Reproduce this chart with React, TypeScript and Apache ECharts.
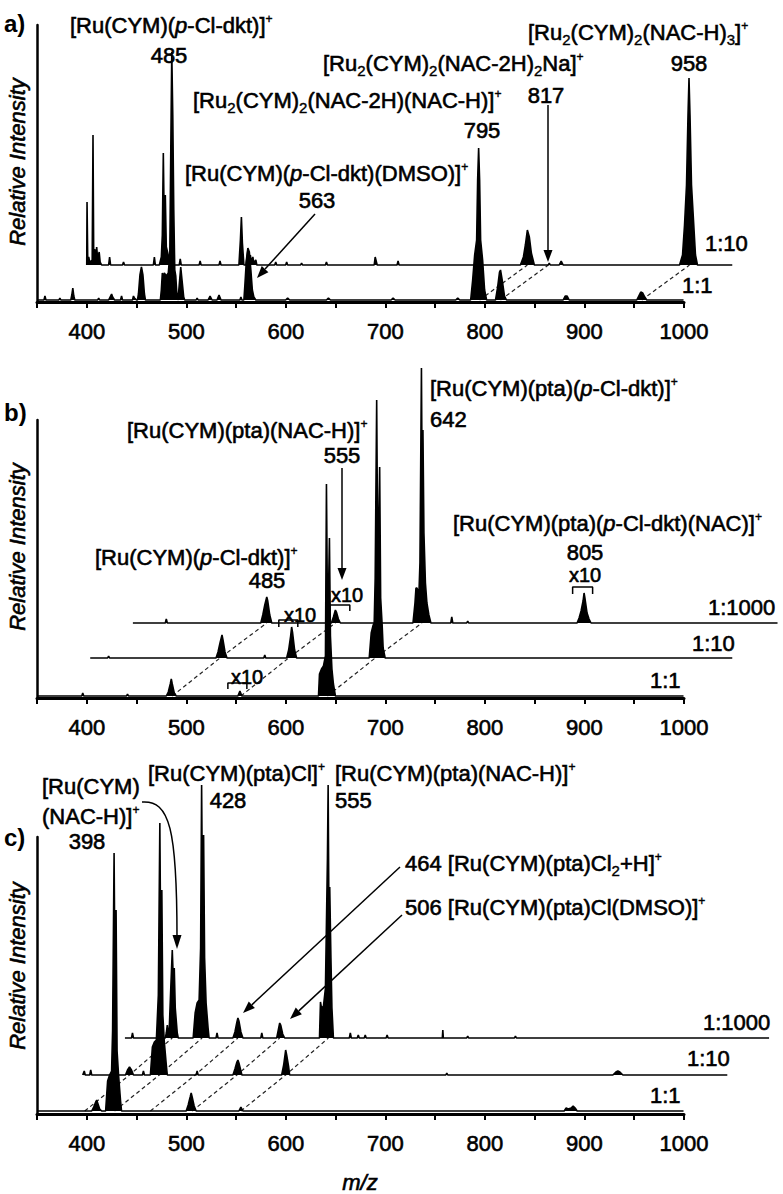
import React, { useEffect, useRef } from "react";
import * as echarts from "echarts";

const FONT = '"Liberation Sans", Arial, Helvetica, sans-serif';

// ---------- axis ----------
const MZ_MIN = 350;
const MZ_MAX = 1000;
const MZ_PLOT_MAX = 1100; // hidden overlay extent (shifted traces run past 1000)
const TICK_LABELS = [400, 500, 600, 700, 800, 900, 1000];

// ---------- panel a : [m/z, intensity above its own baseline] ----------
const A_R1: number[][] = [
  [350,0],[357,0],[358,4],[359,0],[372,0],[373,2],[374,0],
  [384,0],[385,5],[386,12],[387,4],[388,0],[411,0],[412,2],[413,0],
  [422,0],[424,4],[425,6],[426,3],[428,0],[434,0],[435,4],[436,0],
  [446,0],[447,4],[448,2],[450,0],
  [451,0],[452,6],[453.5,25],[455,33],[456.5,25],[458,6],[459,0],
  [474,0],[475,10],[476,27],[477,22],[478,27],[480,24],[482,27],[483.5,45],[484.5,150],[485.5,248],[486.5,185],[487.5,90],[488.5,30],[489.5,24],[490.5,8],[491.5,0],
  [492,3],[493,15],[494.5,33],[496,18],[497.5,3],[498.5,0],
  [510,0],[511,2],[512,0],[522,0],[524,4],[526,0],[531,0],[533,5],[535,0],[554,0],[555,3],[556,0],
  [558,0],[559,15],[560.5,40],[562,52],[563.5,48],[565,30],[566.5,10],[568,3],[570,0],
  [600,0],[602,2],[604,0],[641,0],[643,2],[645,0],[706,0],[708,2],[710,0],[771,0],[773,2],[775,0],
  [786,0],[788,20],[790,45],[792,60],[793,120],[794,152],[795,120],[796,60],[798,40],[800,10],[802,0],
  [811,0],[813,12],[815,28],[816,30],[818,18],[820,4],[822,0],
  [879,0],[881,4],[883,4],[885,0],
  [953,0],[955,4],[957,8],[959,7],[961,3],[963,0],
  [1000,0],
];
const A_R10: number[][] = [
  [352,0],[352.3,63],[353,6],[354,8],[355,3],[357.5,5],[358.3,130],[359,12],[360,16],[361,5],[362,18],[363,6],[364.5,13],[365.5,3],[367,0],
  [374,0],[375,8],[376,0],[388,0],[389,3],[390,0],[419,0],[420,8],[421,0],
  [425,0],[427,8],[428,30],[429,112],[430,35],[431,70],[432,18],[433.5,12],[435,5],[437,0],
  [445,0],[446,6],[447,0],[465,0],[466,4],[467,0],[485,0],[486,4],[487,0],
  [505,0],[506.5,25],[507.5,48],[508.5,22],[510,0],
  [512,0],[513,6],[514,15],[515,4],[516.5,10],[517.5,3],[519,8],[520,2],[522,5],[523,0],
  [541,0],[542,3],[543,0],[552,0],[553,3],[554,0],[567,0],[568,2],[569,0],[592,0],[593,3],[594,0],
  [641,0],[642,8],[644,0],[664,0],[665,4],[666,0],
  [788,0],[791,8],[793,20],[795,35],[797,28],[799,12],[802,0],
  [816,0],[817,2],[818,0],[827,0],[829,4],[831,0],
  [948,0],[951,10],[953,40],[955,80],[956.5,150],[957.5,187],[958.5,150],[960,80],[962,45],[964,10],[966,0],
  [1001,0],
];
const A_TRACES = [
  { pts: A_R1, dx: 0, base: 2 },
  { pts: A_R10, dx: 48, base: 37 },
];
const A_LINKS = [795, 816, 958];

// ---------- panel b ----------
const B_R1: number[][] = [
  [350,0],[395,0],[396,3],[397,0],[440,0],[441,2],[442,0],
  [480,0],[482,4],[484,12],[485,17],[486,12],[488,3],[490,0],
  [552,0],[554,5],[556,0],
  [633,0],[634,22],[636,27],[638,30],[640,40],[641,212],[642,90],[643,100],[644,158],[645,60],[646.5,27],[648,12],[650,0],
  [1000,0],
];
const B_R10: number[][] = [
  [355.5,0],[373,0],[374,2],[375,0],
  [482,0],[484,6],[486,15],[488,23],[489,18],[491,6],[493,0],
  [530,0],[531,3],[532,0],
  [553,0],[555,8],[557,22],[558,31],[559,25],[561,8],[563,0],
  [636,0],[638,25],[640,33],[641,35],[642,80],[643.5,258],[644.5,110],[645.5,130],[646.5,191],[647.5,60],[649,33],[650,10],[652,0],
  [1001,0],
];
const B_R1000: number[][] = [
  [351.4,0],[384,0],[385,4],[386,0],
  [480,0],[482,8],[484,18],[486,26],[487,22],[489,8],[491,0],
  [551,0],[553,6],[555,13],[556,11],[558,4],[560,0],
  [633,0],[635,20],[636,35],[637,35],[639,30],[640,60],[641.5,255],[642.3,120],[643,193],[644,90],[645.5,40],[647,20],[649,8],[651,0],
  [671,0],[672,6],[673,0],[687,0],[688,2],[689,0],
  [798,0],[800,5],[802,12],[804,22],[805,30],[806,24],[808,10],[810,4],[812,0],
  [999.5,0],
];
const B_TRACES = [
  { pts: B_R1, dx: 0, base: 2 },
  { pts: B_R10, dx: 48, base: 40 },
  { pts: B_R1000, dx: 95, base: 75 },
];
const B_LINKS = [486, 555, 642];
// "x10" brackets: [from, to, top, leg end] in plotted coordinates
const B_BRACKETS: number[][] = [
  [541.9, 561.0, 15, 9],
  [593.1, 612.2, 78, 71],
  [644.4, 664.5, 93, 87],
  [888.5, 908.6, 111, 104],
];

// ---------- panel c ----------
const C_R1: number[][] = [
  [350,0],[405,0],[407,4],[409,9],[410,11],[411,8],[413,2],[415,0],
  [419,0],[421,30],[423,36],[425,40],[426,80],[427.5,258],[428.5,120],[429.5,201],[430.5,60],[432,36],[434,10],[435,0],
  [500,0],[502,6],[504,14],[505,18],[506,14],[508,5],[510,0],
  [553,0],[555,4],[557,0],
  [880,0],[882,3],[884,2],[887,3],[889,5],[891,3],[893,0],
  [1000,0],
];
const C_R10: number[][] = [
  [351,0],[352.5,4],[353.5,0],[358,0],[359,5],[360,0],
  [394,0],[396,5],[398,8],[400,5],[402,0],[411,0],[412,4],[413,0],
  [419,0],[421,28],[423,33],[425,35],[427,80],[428.5,252],[429.5,110],[430.5,185],[431.5,60],[433,33],[435,10],[436,0],
  [465,0],[466,4],[467,0],
  [502,0],[504,6],[506,13],[507,15],[508,12],[510,4],[511,0],
  [551,0],[553,10],[555,25],[556,20],[558,8],[559,0],
  [716,0],[717,2],[718,0],
  [884,0],[887,3],[889,4],[891,3],[894,0],
  [999,0],
];
const C_R1000: number[][] = [
  [350.4,0],[357,0],[358,5],[359,0],
  [391,0],[392,5],[393,13],[394,4],[395,10],[396.5,50],[398,88],[399,60],[400,70],[401,30],[403,5],[404,0],
  [419,0],[421,25],[423,35],[425,38],[426.5,90],[427.5,253],[428.5,120],[429.5,203],[430.5,80],[432,35],[434,10],[435,0],
  [442,0],[443,5],[444,0],
  [459,0],[461,6],[463,16],[464,20],[465,17],[467,6],[469,0],
  [487,0],[488,5],[489,0],
  [503,0],[505,10],[506,15],[507,13],[509,4],[511,0],
  [546,0],[547,36],[548,30],[550,32],[552,50],[554,180],[554.7,253],[555.5,120],[556.3,151],[557.5,80],[558.5,30],[560,0],
  [576,0],[577,5],[578,0],[584,0],[585,3],[586,0],[591,0],[592,3],[593,0],[613,0],[614,3],[615,0],
  [669.5,0],[670,8],[670.5,0],[694,0],[695,2],[696,0],[742,0],[743,2],[744,0],
  [998,0],
];
const C_TRACES = [
  { pts: C_R1, dx: 0, base: 3 },
  { pts: C_R10, dx: 45, base: 39 },
  { pts: C_R1000, dx: 88, base: 76 },
];
const C_LINKS = [398, 428, 464, 506, 555];

// ---------- layout ----------
const GRIDS = [
  { left: 37, top: 25, width: 647, height: 277 },
  { left: 37, top: 420, width: 647, height: 278 },
  { left: 37, top: 837, width: 647, height: 277 },
];
const HEADROOM = 80;

const TXT = { fill: "#000", stroke: "#000", lineWidth: 0.6 };
const RICH: any = {
  n: { fontSize: 22, fontFamily: FONT, lineHeight: 30, ...TXT },
  i: { fontSize: 22, fontFamily: FONT, fontStyle: "italic", lineHeight: 30, ...TXT },
  b: { fontSize: 15, fontFamily: FONT, padding: [15, 0, 0, 0], ...TXT, lineWidth: 0.4 },
  p: { fontSize: 12, fontFamily: FONT, padding: [3, 0, 15, 0], ...TXT, lineWidth: 0.4 },
};

function label(text: string, x: number, y: number, align = "left", size = 22, style = "normal", weight = "normal") {
  const rich = text.indexOf("{") >= 0;
  return {
    type: "text",
    x,
    y,
    z: 20,
    silent: true,
    style: {
      text,
      rich: rich ? RICH : undefined,
      ...TXT,
      lineWidth: weight === "bold" ? 0 : 0.6,
      font: `${style} ${weight} ${size}px ${FONT}`,
      align,
      textAlign: align,
      verticalAlign: "middle",
      textVerticalAlign: "middle",
    },
  };
}

function vlabel(text: string, x: number, y: number) {
  return {
    type: "text",
    x,
    y,
    rotation: Math.PI / 2,
    z: 20,
    silent: true,
    style: {
      text,
      ...TXT,
      font: `italic normal 22px ${FONT}`,
      align: "center",
      textAlign: "center",
      verticalAlign: "middle",
      textVerticalAlign: "middle",
    },
  };
}

function arrow(x1: number, y1: number, x2: number, y2: number, head = 12, w = 4.5) {
  const dx = x2 - x1;
  const dy = y2 - y1;
  const L = Math.hypot(dx, dy);
  const ux = dx / L;
  const uy = dy / L;
  const bx = x2 - ux * head;
  const by = y2 - uy * head;
  return [
    { type: "line", z: 20, silent: true, shape: { x1, y1, x2: bx, y2: by }, style: { stroke: "#000", lineWidth: 1.5 } },
    {
      type: "polygon",
      z: 20,
      silent: true,
      shape: { points: [[x2, y2], [bx - uy * w, by + ux * w], [bx + uy * w, by - ux * w]] },
      style: { fill: "#000" },
    },
  ];
}

// all marks are drawn on a hidden overlay grid (index 3..5) that shares the
// visible axis scale but extends past m/z 1000 and above the axis top
function traceSeries(p: number, t: { pts: number[][]; dx: number; base: number }) {
  return {
    type: "line",
    xAxisIndex: p + 3,
    yAxisIndex: p + 3,
    data: t.pts.map(([m, h]) => [m + t.dx, h + t.base]),
    showSymbol: false,
    symbol: "none",
    clip: false,
    silent: true,
    z: 3,
    lineStyle: { color: "#000", width: 1.6 },
    areaStyle: { color: "#000", opacity: 1, origin: t.base },
  };
}

function linkSeries(p: number, traces: { dx: number; base: number }[], m: number) {
  return {
    type: "line",
    xAxisIndex: p + 3,
    yAxisIndex: p + 3,
    data: traces.map((t) => [m + t.dx, t.base]),
    showSymbol: false,
    symbol: "none",
    clip: false,
    silent: true,
    z: 2,
    lineStyle: { color: "#222", width: 1.2, type: [4, 3] },
  };
}

function bracketSeries(p: number, b: number[]) {
  const [x0, x1, top, leg] = b;
  return {
    type: "line",
    xAxisIndex: p + 3,
    yAxisIndex: p + 3,
    data: [[x0, leg], [x0, top], [x1, top], [x1, leg]],
    showSymbol: false,
    symbol: "none",
    clip: false,
    silent: true,
    z: 4,
    lineStyle: { color: "#000", width: 1.5 },
  };
}

export default function App() {
  const ref = useRef<HTMLDivElement>(null);
  useEffect(() => {
    if (!ref.current) return;
    const chart = echarts.init(ref.current, undefined, { renderer: "svg" });

    const pxPerUnit = GRIDS[0].width / (MZ_MAX - MZ_MIN);
    const heads = GRIDS.map((g) => Math.min(HEADROOM, g.top));
    const overlayGrids = GRIDS.map((g, i) => ({
      left: g.left,
      top: g.top - heads[i],
      width: (MZ_PLOT_MAX - MZ_MIN) * pxPerUnit,
      height: g.height + heads[i],
      containLabel: false,
    }));

    const xAxes: any[] = GRIDS.map((_, i) => ({
      gridIndex: i,
      type: "value",
      min: MZ_MIN,
      max: MZ_MAX,
      interval: 50,
      axisLine: { show: true, onZero: false, lineStyle: { color: "#000", width: 3 } },
      axisTick: { show: true, length: 6, lineStyle: { color: "#000", width: 2 } },
      axisLabel: {
        color: "#000",
        fontSize: 22,
        fontFamily: FONT,
        margin: 18,
        textBorderColor: "#000",
        textBorderWidth: 0.6,
        formatter: (v: number) => (TICK_LABELS.indexOf(v) >= 0 ? String(v) : ""),
      },
      splitLine: { show: false },
    }));
    const yAxes: any[] = GRIDS.map((g, i) => ({
      gridIndex: i,
      type: "value",
      min: 0,
      max: g.height,
      axisLine: { show: true, onZero: false, lineStyle: { color: "#000", width: 2.5 } },
      axisTick: { show: false },
      axisLabel: { show: false },
      splitLine: { show: false },
    }));
    GRIDS.forEach((g, i) => {
      xAxes.push({
        gridIndex: i + 3,
        type: "value",
        min: MZ_MIN,
        max: MZ_PLOT_MAX,
        show: false,
        splitLine: { show: false },
      });
      yAxes.push({
        gridIndex: i + 3,
        type: "value",
        min: 0,
        max: g.height + heads[i],
        show: false,
        splitLine: { show: false },
      });
    });

    const series: any[] = [];
    A_LINKS.forEach((m) => series.push(linkSeries(0, A_TRACES, m)));
    B_LINKS.forEach((m) => series.push(linkSeries(1, B_TRACES, m)));
    C_LINKS.forEach((m) => series.push(linkSeries(2, C_TRACES, m)));
    A_TRACES.forEach((t) => series.push(traceSeries(0, t)));
    B_TRACES.forEach((t) => series.push(traceSeries(1, t)));
    C_TRACES.forEach((t) => series.push(traceSeries(2, t)));
    B_BRACKETS.forEach((b) => series.push(bracketSeries(1, b)));

    const elements: any[] = [
      // panel a
      label("a)", 4, 23, "left", 24, "normal", "bold"),
      vlabel("Relative Intensity", 17, 162),
      label("{n|[Ru(CYM)(}{i|p}{n|-Cl-dkt)]}{p|+}", 70, 25),
      label("485", 169, 55, "center"),
      label("{n|[Ru}{b|2}{n|(CYM)}{b|2}{n|(NAC-H)}{b|3}{n|]}{p|+}", 528, 32),
      label("958", 689, 63, "center"),
      label("{n|[Ru}{b|2}{n|(CYM)}{b|2}{n|(NAC-2H)}{b|2}{n|Na]}{p|+}", 323, 63),
      label("817", 546, 95, "center"),
      label("{n|[Ru}{b|2}{n|(CYM)}{b|2}{n|(NAC-2H)(NAC-H)]}{p|+}", 193, 100),
      label("795", 482, 130, "center"),
      label("{n|[Ru(CYM)(}{i|p}{n|-Cl-dkt)(DMSO)]}{p|+}", 185, 173),
      label("563", 317, 200, "center"),
      label("1:10", 705, 243),
      label("1:1", 682, 285),
      ...arrow(548, 105, 548, 262),
      ...arrow(315, 214, 257, 278),
      // panel b
      label("b)", 4, 412, "left", 24, "normal", "bold"),
      vlabel("Relative Intensity", 17, 547),
      label("{n|[Ru(CYM)(pta)(}{i|p}{n|-Cl-dkt)]}{p|+}", 430, 388),
      label("642", 430, 419),
      label("{n|[Ru(CYM)(pta)(NAC-H)]}{p|+}", 127, 430),
      label("555", 342, 455, "center"),
      label("{n|[Ru(CYM)(}{i|p}{n|-Cl-dkt)]}{p|+}", 95, 557),
      label("485", 267, 580, "center"),
      label("{n|[Ru(CYM)(pta)(}{i|p}{n|-Cl-dkt)(NAC)]}{p|+}", 453, 523),
      label("805", 585, 552, "center"),
      label("x10", 247, 677, "center", 20),
      label("x10", 300, 615, "center", 20),
      label("x10", 347, 595, "center", 20),
      label("x10", 585, 575, "center", 20),
      label("1:1000", 708, 607),
      label("1:10", 692, 643),
      label("1:1", 650, 680),
      ...arrow(342, 468, 342, 580),
      // panel c
      label("c)", 4, 837, "left", 24, "normal", "bold"),
      vlabel("Relative Intensity", 17, 966),
      label("[Ru(CYM)", 42, 786),
      label("{n|(NAC-H)]}{p|+}", 42, 816),
      label("398", 87, 841, "center"),
      label("{n|[Ru(CYM)(pta)Cl]}{p|+}", 148, 773),
      label("428", 228, 800, "center"),
      label("{n|[Ru(CYM)(pta)(NAC-H)]}{p|+}", 335, 773),
      label("555", 335, 800),
      label("{n|464 [Ru(CYM)(pta)Cl}{b|2}{n|+H]}{p|+}", 405, 863),
      label("{n|506 [Ru(CYM)(pta)Cl(DMSO)]}{p|+}", 405, 907),
      label("1:1000", 703, 1022),
      label("1:10", 687, 1058),
      label("1:1", 650, 1095),
      label("m/z", 360, 1182, "center", 22, "italic"),
      ...arrow(400, 867, 243, 1013),
      ...arrow(402, 915, 290, 1019),
      {
        type: "bezierCurve",
        z: 20,
        silent: true,
        shape: { x1: 142, y1: 802, cpx1: 170, cpy1: 800, cpx2: 177, cpy2: 830, x2: 177, y2: 937 },
        style: { stroke: "#000", lineWidth: 1.5, fill: null },
      },
      {
        type: "polygon",
        z: 20,
        silent: true,
        shape: { points: [[177, 949], [172.5, 935], [181.5, 935]] },
        style: { fill: "#000" },
      },
    ];

    chart.setOption({
      animation: false,
      backgroundColor: "#fff",
      grid: [...GRIDS.map((g) => ({ ...g, containLabel: false })), ...overlayGrids],
      xAxis: xAxes,
      yAxis: yAxes,
      series,
      graphic: { elements },
    });
    return () => chart.dispose();
  }, []);
  return (
    <div
      ref={ref}
      style={{ width: 783, height: 1194, position: "absolute", left: 0, top: 0, background: "#fff" }}
    />
  );
}
